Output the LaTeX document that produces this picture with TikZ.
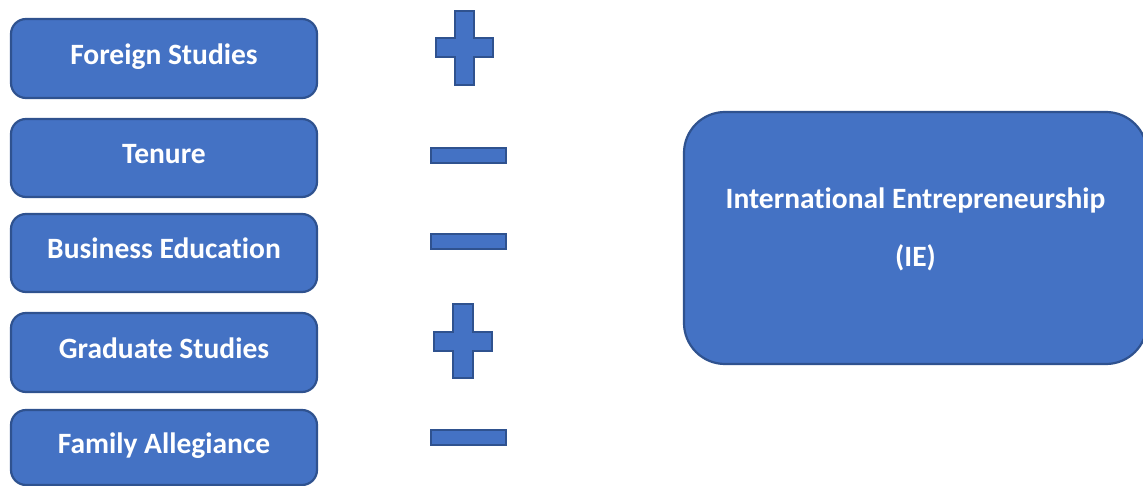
\documentclass[tikz,border=0pt]{standalone}
\usepackage{fontspec}
\setmainfont{Carlito}[Ligatures={NoCommon}]
\definecolor{boxfill}{HTML}{4472C4}
\definecolor{boxline}{HTML}{2F528F}
\begin{document}
\begin{tikzpicture}[x=1pt,y=-1pt,
  factor/.style={draw=boxline,fill=boxfill,line width=2.2pt,rounded corners=15pt,
    minimum width=306pt,text=white,font=\fontsize{29.5}{34}\selectfont\bfseries,
    text height=12pt,text depth=0pt,inner sep=0pt},
  sign/.style={draw=boxline,fill=boxfill,line width=1.6pt}]
\useasboundingbox (0,0) rectangle (1143,486);
\clip (0,0) rectangle (1143,486);
\node[factor,minimum height=79pt] (fs) at (164,58.5) {Foreign Studies};
\node[factor,minimum height=78pt] (te) at (164,158) {Tenure};
\node[factor,minimum height=78pt] (be) at (164,253) {Business Education};
\node[factor,minimum height=79pt] (gs) at (164,352.5) {Graduate Studies};
\node[factor,minimum height=75pt] (fa) at (164,447.5) {Family Allegiance};
\node[draw=boxline,fill=boxfill,line width=2.2pt,rounded corners=41pt,
  minimum width=463pt,minimum height=252pt,text=white,align=center,
  font=\fontsize{29.5}{58}\selectfont\bfseries,text height=118pt,text depth=61pt,
  inner sep=0pt] (ie) at (915.5,238) {International Entrepreneurship\\(IE)};
% plus signs
\draw[sign] (455,11)--(474,11)--(474,38)--(493,38)--(493,57)--(474,57)--(474,85)
  --(455,85)--(455,57)--(436,57)--(436,38)--(455,38)--cycle;
\draw[sign] (453,304)--(473,304)--(473,332)--(492,332)--(492,351)--(473,351)--(473,378)
  --(453,378)--(453,351)--(434,351)--(434,332)--(453,332)--cycle;
% minus signs
\draw[sign] (431,148) rectangle (506,163);
\draw[sign] (431,234) rectangle (506,249);
\draw[sign] (431,430) rectangle (506,445);
\end{tikzpicture}
\end{document}
